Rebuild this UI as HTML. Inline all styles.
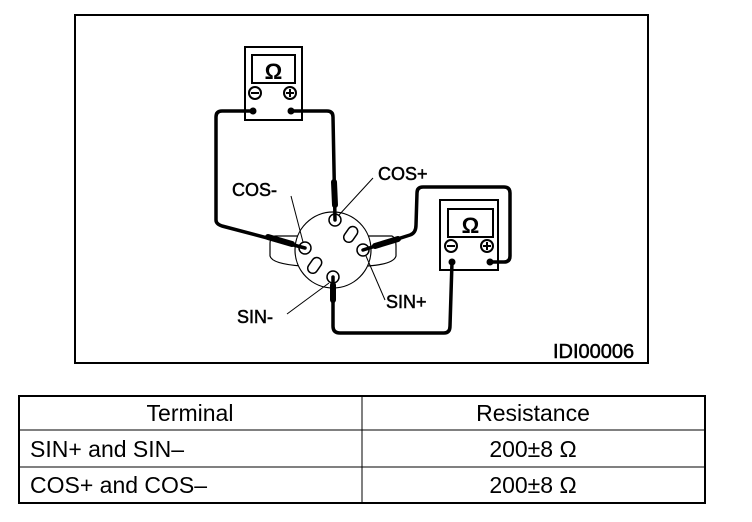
<!DOCTYPE html>
<html><head><meta charset="utf-8"><style>
html,body{margin:0;padding:0;background:#fff;width:752px;height:522px;overflow:hidden}
svg{position:absolute;left:0;top:0}
text{font-family:"Liberation Sans",sans-serif;fill:#000}
.lb{stroke:#000;stroke-width:0.5}
</style></head><body>
<svg width="752" height="522" viewBox="0 0 752 522">
<rect x="75" y="15" width="573" height="348" fill="none" stroke="#000" stroke-width="2"/>
<rect x="245" y="47" width="57" height="73" fill="#fff" stroke="#000" stroke-width="2"/>
<rect x="252" y="55" width="43" height="28" fill="none" stroke="#000" stroke-width="2"/>
<text x="273.5" y="79" font-size="22" font-weight="bold" text-anchor="middle">Ω</text>
<circle cx="255" cy="93" r="6" fill="none" stroke="#000" stroke-width="2"/><line x1="251" y1="93" x2="259" y2="93" stroke="#000" stroke-width="2"/>
<circle cx="290" cy="93" r="6" fill="none" stroke="#000" stroke-width="2"/><line x1="286" y1="93" x2="294" y2="93" stroke="#000" stroke-width="2"/><line x1="290" y1="89" x2="290" y2="97" stroke="#000" stroke-width="2"/>
<circle cx="253" cy="111" r="3.5"/><circle cx="291" cy="111" r="3.5"/>
<rect x="440" y="200" width="58" height="70" fill="#fff" stroke="#000" stroke-width="2"/>
<rect x="448" y="209" width="45" height="28" fill="none" stroke="#000" stroke-width="2"/>
<text x="470.5" y="233" font-size="22" font-weight="bold" text-anchor="middle">Ω</text>
<circle cx="451" cy="246" r="6" fill="none" stroke="#000" stroke-width="2"/><line x1="447" y1="246" x2="455" y2="246" stroke="#000" stroke-width="2"/>
<circle cx="487" cy="246" r="6" fill="none" stroke="#000" stroke-width="2"/><line x1="483" y1="246" x2="491" y2="246" stroke="#000" stroke-width="2"/><line x1="487" y1="242" x2="487" y2="250" stroke="#000" stroke-width="2"/>
<circle cx="452" cy="262" r="3.5"/><circle cx="490" cy="262" r="3.5"/>
<path d="M300 236 L276 236 Q270 236 270 244 L270 256 Q272 264 302 266" fill="none" stroke="#000" stroke-width="1.2"/>
<path d="M366 236 L392 236 Q396 238 396 246 L396 256 Q394 264 368 266" fill="none" stroke="#000" stroke-width="1.2"/>
<circle cx="333" cy="250" r="38" fill="#fff" stroke="#000" stroke-width="1.2"/>
<circle cx="335" cy="220" r="6" fill="#fff" stroke="#000" stroke-width="1.5"/>
<circle cx="305" cy="248" r="6" fill="#fff" stroke="#000" stroke-width="1.5"/>
<circle cx="363" cy="250" r="6" fill="#fff" stroke="#000" stroke-width="1.5"/>
<circle cx="333" cy="277" r="6" fill="#fff" stroke="#000" stroke-width="1.5"/>
<rect x="346" y="226" width="10" height="17" rx="5" transform="rotate(35 351 234)" fill="none" stroke="#000" stroke-width="1.5"/>
<rect x="310" y="257" width="10" height="17" rx="5" transform="rotate(35 315 265)" fill="none" stroke="#000" stroke-width="1.5"/>
<g fill="none" stroke="#000" stroke-width="3.5" stroke-linejoin="round" stroke-linecap="round">
<path d="M253 111 L222 111 Q216 111 216 117 L216 220 Q216 224 222 226 L305 248"/>
<path d="M291 111 L327 111 Q333 111 333 117 L335 220"/>
<path d="M363 250 L410 235 Q416 233 416 225 L417 193 Q417 187 423 187 L504 187 Q510 187 510 193 L510 256 Q510 262 504 262 L490 262"/>
<path d="M333 277 L333 326 Q333 333 340 333 L444 333 Q450 333 450 326 L452 262"/>
</g>
<g stroke="#000" stroke-width="6" stroke-linecap="round">
<line x1="334" y1="182" x2="335" y2="205"/>
<line x1="268" y1="237" x2="292" y2="244"/>
<line x1="375" y1="246" x2="398" y2="239"/>
<line x1="333" y1="285" x2="333" y2="300"/>
</g>
<g stroke="#000" stroke-width="1" fill="none">
<line x1="373" y1="178" x2="339" y2="215"/>
<line x1="291" y1="196" x2="303" y2="242"/>
<line x1="366" y1="256" x2="385" y2="300"/>
<line x1="287" y1="314" x2="329" y2="283"/>
</g>
<text class="lb" x="378" y="180" font-size="18">COS+</text>
<text class="lb" x="232" y="196" font-size="18">COS-</text>
<text class="lb" x="386" y="308" font-size="18">SIN+</text>
<text class="lb" x="237" y="323" font-size="18">SIN-</text>
<text class="lb" x="553" y="358" font-size="20">IDI00006</text>
<rect x="19" y="396" width="686" height="107" fill="none" stroke="#000" stroke-width="2"/>
<line x1="19" y1="430" x2="705" y2="430" stroke="#000" stroke-width="1"/>
<line x1="19" y1="467" x2="705" y2="467" stroke="#000" stroke-width="1"/>
<line x1="362" y1="396" x2="362" y2="503" stroke="#000" stroke-width="1"/>
<text x="190" y="421" font-size="23" text-anchor="middle">Terminal</text>
<text x="533" y="421" font-size="23" text-anchor="middle">Resistance</text>
<text x="30" y="457" font-size="23">SIN+ and SIN–</text>
<text x="533" y="457" font-size="23" text-anchor="middle">200±8 Ω</text>
<text x="30" y="493" font-size="23">COS+ and COS–</text>
<text x="533" y="493" font-size="23" text-anchor="middle">200±8 Ω</text>
</svg>
</body></html>
